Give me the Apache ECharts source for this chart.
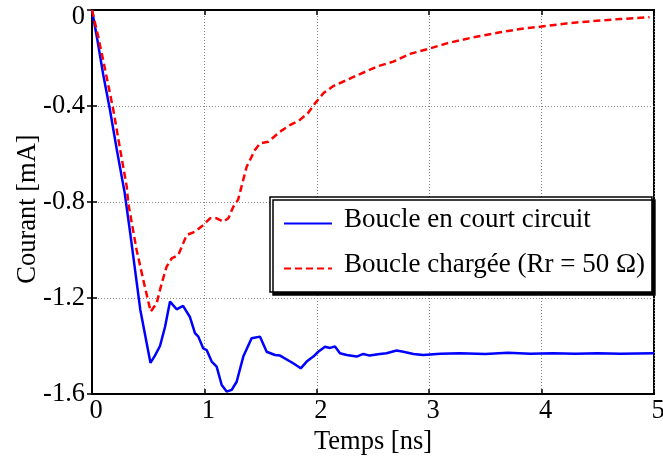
<!DOCTYPE html>
<html>
<head>
<meta charset="utf-8">
<script src="https://cdn.jsdelivr.net/npm/echarts@6/dist/echarts.min.js"></script>
<style>html,body{margin:0;padding:0;background:#fff}#c{width:663px;height:462px}</style>
</head>
<body>
<div id="c"></div>
<script>
const xTicks = [0, 1, 2, 3, 4, 5];
const yTicks = [0, -0.4, -0.8, -1.2, -1.6];
const seriesNames = ['Boucle en court circuit', 'Boucle chargée (Rr = 50 Ω)'];

const tShort = [0, 0.05, 0.1, 0.16, 0.22, 0.29, 0.34, 0.43, 0.52, 0.56, 0.605, 0.65, 0.694, 0.753, 0.81, 0.87, 0.916, 0.946, 0.99, 1.02, 1.065, 1.109, 1.154, 1.198, 1.243, 1.287, 1.346, 1.42, 1.495, 1.554, 1.628, 1.673, 1.79, 1.857, 1.91, 1.969, 2.013, 2.073, 2.117, 2.162, 2.206, 2.266, 2.355, 2.414, 2.47, 2.56, 2.62, 2.71, 2.77, 2.86, 2.947, 3.1, 3.27, 3.5, 3.7, 3.9, 4.1, 4.3, 4.5, 4.7, 5.0];
const iShort = [0, -0.13, -0.27, -0.417, -0.58, -0.76, -0.93, -1.25, -1.47, -1.44, -1.40, -1.32, -1.215, -1.247, -1.233, -1.278, -1.346, -1.361, -1.41, -1.417, -1.465, -1.486, -1.5625, -1.59, -1.583, -1.549, -1.444, -1.368, -1.361, -1.424, -1.4375, -1.44, -1.472, -1.493, -1.465, -1.444, -1.424, -1.403, -1.408, -1.402, -1.43, -1.4375, -1.444, -1.433, -1.44, -1.433, -1.43, -1.419, -1.424, -1.433, -1.4375, -1.432, -1.43, -1.433, -1.428, -1.432, -1.43, -1.432, -1.43, -1.432, -1.43];

const tLoad = [0, 0.05, 0.1, 0.19, 0.25, 0.309, 0.323, 0.397, 0.47, 0.522, 0.575, 0.62, 0.664, 0.709, 0.768, 0.842, 0.916, 0.99, 1.05, 1.109, 1.168, 1.213, 1.257, 1.30, 1.376, 1.45, 1.495, 1.569, 1.673, 1.76, 1.85, 1.92, 1.984, 2.058, 2.147, 2.266, 2.384, 2.533, 2.68, 2.83, 3.007, 3.156, 3.39, 3.63, 3.81, 4.0, 4.22, 4.46, 4.70, 4.96];
const iLoad = [0, -0.1, -0.21, -0.417, -0.58, -0.736, -0.806, -1.0, -1.153, -1.257, -1.222, -1.139, -1.069, -1.035, -1.021, -0.9375, -0.924, -0.896, -0.868, -0.868, -0.882, -0.868, -0.82, -0.79, -0.653, -0.583, -0.556, -0.549, -0.507, -0.48, -0.458, -0.43, -0.389, -0.347, -0.317, -0.292, -0.267, -0.236, -0.215, -0.183, -0.16, -0.139, -0.114, -0.093, -0.079, -0.069, -0.056, -0.046, -0.0375, -0.03];

const FONT = '"Liberation Serif", "Times New Roman", serif';
const pair = (t, v) => t.map((x, i) => [x, v[i]]);

const chart = echarts.init(document.getElementById('c'), null, {renderer: 'canvas'});
const splitLine = {show: true, lineStyle: {color: '#888', type: [1, 2], width: 1}};
const tickIn = {show: true, inside: true, length: 5, lineStyle: {color: '#000', width: 1.5}};
const labelFont = {fontFamily: FONT, fontSize: 26.5, color: '#000'};
chart.setOption({
  animation: false,
  backgroundColor: '#fff',
  grid: {left: 92, right: 9, top: 10, bottom: 68, outerBoundsMode: 'none', containLabel: false,
    show: true, borderColor: '#000', borderWidth: 2},
  xAxis: [{
    type: 'value', min: xTicks[0], max: xTicks[xTicks.length - 1], interval: 1,
    name: 'Temps [ns]', nameLocation: 'middle', nameGap: 35, nameMoveOverlap: false,
    nameTextStyle: labelFont,
    axisLine: {show: true, onZero: false, lineStyle: {color: '#000', width: 2}},
    axisTick: tickIn,
    axisLabel: Object.assign({margin: 4, padding: [0, 0, 0, 8]}, labelFont),
    splitLine: splitLine
  }, {
    type: 'value', position: 'top', min: 0, max: 5, interval: 1,
    axisLine: {show: true, lineStyle: {color: '#000', width: 2}},
    axisTick: tickIn, axisLabel: {show: false}, splitLine: {show: false}
  }],
  yAxis: [{
    type: 'value', min: yTicks[yTicks.length - 1], max: yTicks[0], interval: 0.4,
    name: 'Courant [mA]', nameLocation: 'middle', nameGap: 50, nameMoveOverlap: false,
    nameTextStyle: Object.assign({padding: [0, 14, 0, 0]}, labelFont),
    axisLine: {show: true, onZero: false, lineStyle: {color: '#000', width: 2}},
    axisTick: tickIn,
    axisLabel: Object.assign({margin: 7,
      formatter: v => (Math.abs(v) < 1e-9 ? '{top|0}' : v.toFixed(1)),
      rich: {top: Object.assign({padding: [14, 0, 0, 0]}, labelFont)}}, labelFont),
    splitLine: splitLine
  }, {
    type: 'value', position: 'right', min: -1.6, max: 0, interval: 0.4,
    axisLine: {show: true, lineStyle: {color: '#000', width: 2}},
    axisTick: tickIn, axisLabel: {show: false}, splitLine: {show: false}
  }],
  legend: {
    orient: 'vertical', left: 270, top: 197,
    padding: [9, 7, 6, 13], itemGap: 10, itemWidth: 48, itemHeight: 14,
    backgroundColor: '#fff', borderColor: '#000', borderWidth: 1.5,
    shadowColor: 'rgba(0,0,0,1)', shadowOffsetX: 3, shadowOffsetY: 3, shadowBlur: 0,
    itemStyle: {opacity: 0, borderWidth: 0},
    formatter: name => '{t|' + name + '}',
    textStyle: {fontFamily: FONT, fontSize: 27, color: '#000', lineHeight: 30, padding: [0, 0, 0, 7],
      rich: {t: {fontFamily: FONT, fontSize: 27, color: '#000', lineHeight: 30, padding: [0, 0, 8, 0]}}},
    data: seriesNames
  },
  series: [{
    name: seriesNames[0], type: 'line', data: pair(tShort, iShort), showSymbol: false, symbol: 'none',
    lineStyle: {color: '#0000ff', width: 2.5}, itemStyle: {color: '#0000ff'}, z: 3
  }, {
    name: seriesNames[1], type: 'line', data: pair(tLoad, iLoad), showSymbol: false, symbol: 'none',
    lineStyle: {color: '#ff0000', width: 2.5, type: [7, 4]}, itemStyle: {color: '#ff0000'}, z: 4
  }]
});
</script>
</body>
</html>
